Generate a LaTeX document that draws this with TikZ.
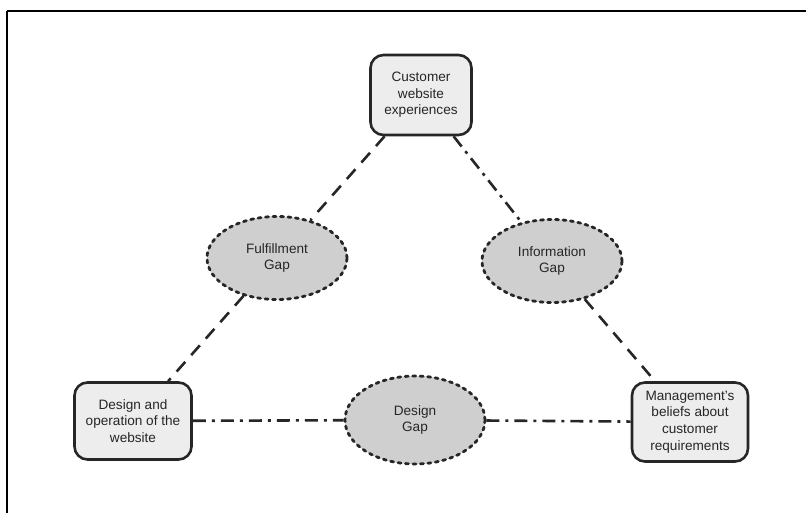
\documentclass[tikz,border=0pt]{standalone}
\usepackage{fontspec}
\setmainfont{Liberation Sans}
\usepackage{tikz}
\usetikzlibrary{shapes.geometric}

\tikzset{
  viewbox/.style={draw=black!85, line width=2.6pt, rounded corners=13pt, fill=black!7,
    align=center, inner sep=0pt, text=black!85, font=\fontsize{13.6}{16.6}\selectfont},
  gapoval/.style={ellipse, draw=black!85, line width=2.8pt, fill=black!19,
    dash pattern=on 3pt off 4.5pt, line cap=round, align=center, inner sep=0pt,
    text=black!85, font=\fontsize{13.6}{16.6}\selectfont},
  longdash/.style={draw=black!85, line width=2.6pt, dash pattern=on 13pt off 9pt},
  dashdot/.style={draw=black!85, line width=2.6pt, dash pattern=on 13pt off 6pt on 3pt off 6pt}
}

\begin{document}
\begin{tikzpicture}[x=1pt,y=-1pt]

\useasboundingbox (0,0) rectangle (806,513);

% frame
\draw [line width=2pt] (7,11) -- (806,11);
\draw [line width=1.2pt] (7,11) -- (7,513);

% corners of the triangle
\node [viewbox, minimum width=101pt, minimum height=80pt] (cust) at (421,95)
  {Customer\\website\\experiences};
\node [viewbox, minimum width=117pt, minimum height=77pt] (site) at (133,421)
  {Design and\\operation of the\\website};
\node [viewbox, minimum width=116pt, minimum height=79pt] (mgmt) at (690,422)
  {Management's\\beliefs about\\customer\\requirements};

% gaps
\node [gapoval, minimum width=140pt, minimum height=83pt] (fulfil) at (277,258)
  {Fulfillment\\Gap};
\node [gapoval, minimum width=140pt, minimum height=83pt] (info) at (552,261)
  {Information\\Gap};
\node [gapoval, minimum width=140pt, minimum height=88pt] (dgap) at (415,420)
  {Design\\Gap};

% links
\draw [longdash] (cust) -- (fulfil);
\draw [longdash] (fulfil) -- (site);
\draw [dashdot] (cust) -- (info);
\draw [longdash] (info) -- (mgmt);
\draw [dashdot] (site) -- (dgap);
\draw [dashdot] (dgap) -- (mgmt);

\end{tikzpicture}
\end{document}
